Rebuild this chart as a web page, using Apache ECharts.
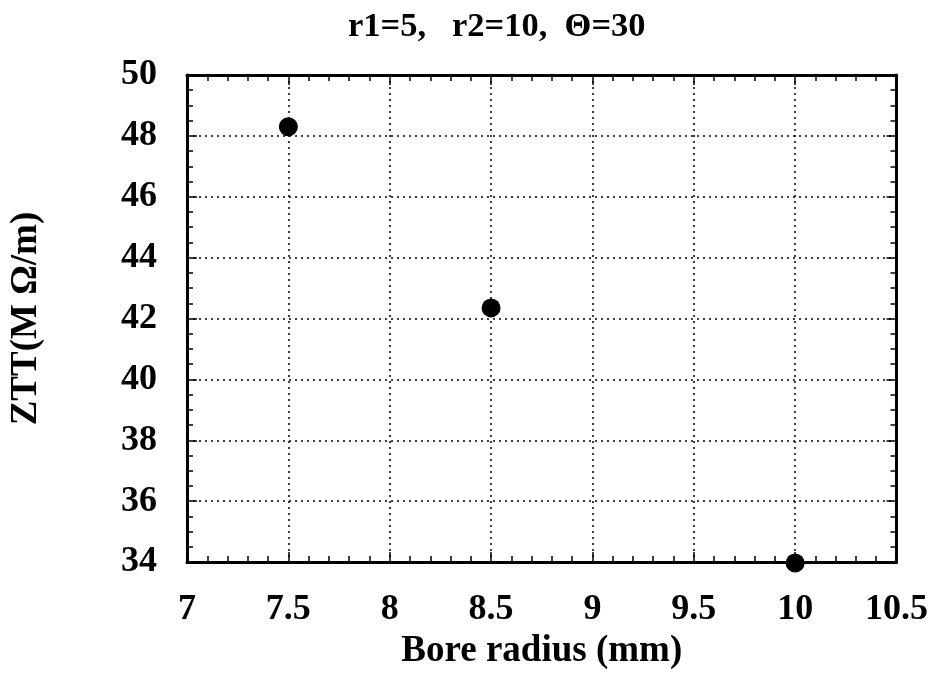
<!DOCTYPE html>
<html>
<head>
<meta charset="utf-8">
<script src="https://cdn.jsdelivr.net/npm/echarts@6/dist/echarts.min.js"></script>
<style>
  html, body { margin: 0; padding: 0; background: #fff; }
  #chart { width: 931px; height: 675px; }
</style>
</head>
<body>
<div id="chart"></div>
<script>
// Bore radius (mm) and corresponding transverse shunt impedance ZTT (MΩ/m)
const boreRadius = [7.5, 8.5, 10];
const ztt = [48.3, 42.35, 33.97];

const chartTitle = 'r1=5,   r2=10,  \u0398=30';
const xName = 'Bore radius (mm)';
const yName = 'ZTT(M \u03A9/m)';

const font = '"Liberation Serif", "Times New Roman", serif';

const chart = echarts.init(document.getElementById('chart'));

const axisLine = { show: true, lineStyle: { color: '#000', width: 3 } };
const tickStyle = { color: '#000', width: 1.5 };

chart.setOption({
  animation: false,
  backgroundColor: '#fff',
  title: {
    text: chartTitle,
    left: 343,
    top: 5,
    textStyle: { fontFamily: font, fontWeight: 'bold', fontSize: 34.5, color: '#000' }
  },
  grid: { left: 184, right: 29, top: 75, bottom: 102 },
  xAxis: [
    {
      type: 'value', min: 7, max: 10.5, interval: 0.5,
      name: xName, nameLocation: 'middle', nameGap: 60,
      nameTextStyle: { fontFamily: font, fontWeight: 'bold', fontSize: 37, color: '#000' },
      axisLine: axisLine,
      axisTick: { show: true, inside: true, length: 10, lineStyle: tickStyle },
      minorTick: { show: true, splitNumber: 5, length: 6, lineStyle: tickStyle },
      axisLabel: { fontFamily: font, fontWeight: 'bold', fontSize: 36, color: '#000', margin: 30 },
      splitLine: { show: true, lineStyle: { color: '#000', type: [2, 4], width: 1.5 } }
    },
    {
      type: 'value', min: 7, max: 10.5, interval: 0.5, position: 'top',
      axisLine: axisLine,
      axisTick: { show: true, inside: true, length: 10, lineStyle: tickStyle },
      minorTick: { show: true, splitNumber: 5, length: 6, lineStyle: tickStyle },
      axisLabel: { show: false },
      splitLine: { show: false }
    }
  ],
  yAxis: [
    {
      type: 'value', min: 34, max: 50, interval: 2,
      name: yName, nameLocation: 'middle', nameGap: 142, nameRotate: 90,
      nameTextStyle: { fontFamily: font, fontWeight: 'bold', fontSize: 37, color: '#000' },
      axisLine: axisLine,
      axisTick: { show: true, inside: true, length: 10, lineStyle: tickStyle },
      minorTick: { show: true, splitNumber: 4, length: 6, lineStyle: tickStyle },
      axisLabel: { fontFamily: font, fontWeight: 'bold', fontSize: 36, color: '#000', margin: 30,
                   padding: [6, 0, 0, 0] },
      splitLine: { show: true, lineStyle: { color: '#000', type: [2, 4], width: 1.5 } }
    },
    {
      type: 'value', min: 34, max: 50, interval: 2, position: 'right',
      axisLine: axisLine,
      axisTick: { show: true, inside: true, length: 10, lineStyle: tickStyle },
      minorTick: { show: true, splitNumber: 4, length: 6, lineStyle: tickStyle },
      axisLabel: { show: false },
      splitLine: { show: false }
    }
  ],
  series: [
    {
      type: 'scatter',
      xAxisIndex: 0,
      yAxisIndex: 0,
      symbol: 'circle',
      symbolSize: 19,
      clip: false,
      itemStyle: { color: '#000', opacity: 1 },
      z: 10,
      data: boreRadius.map((x, i) => [x, ztt[i]])
    }
  ]
});
</script>
</body>
</html>
